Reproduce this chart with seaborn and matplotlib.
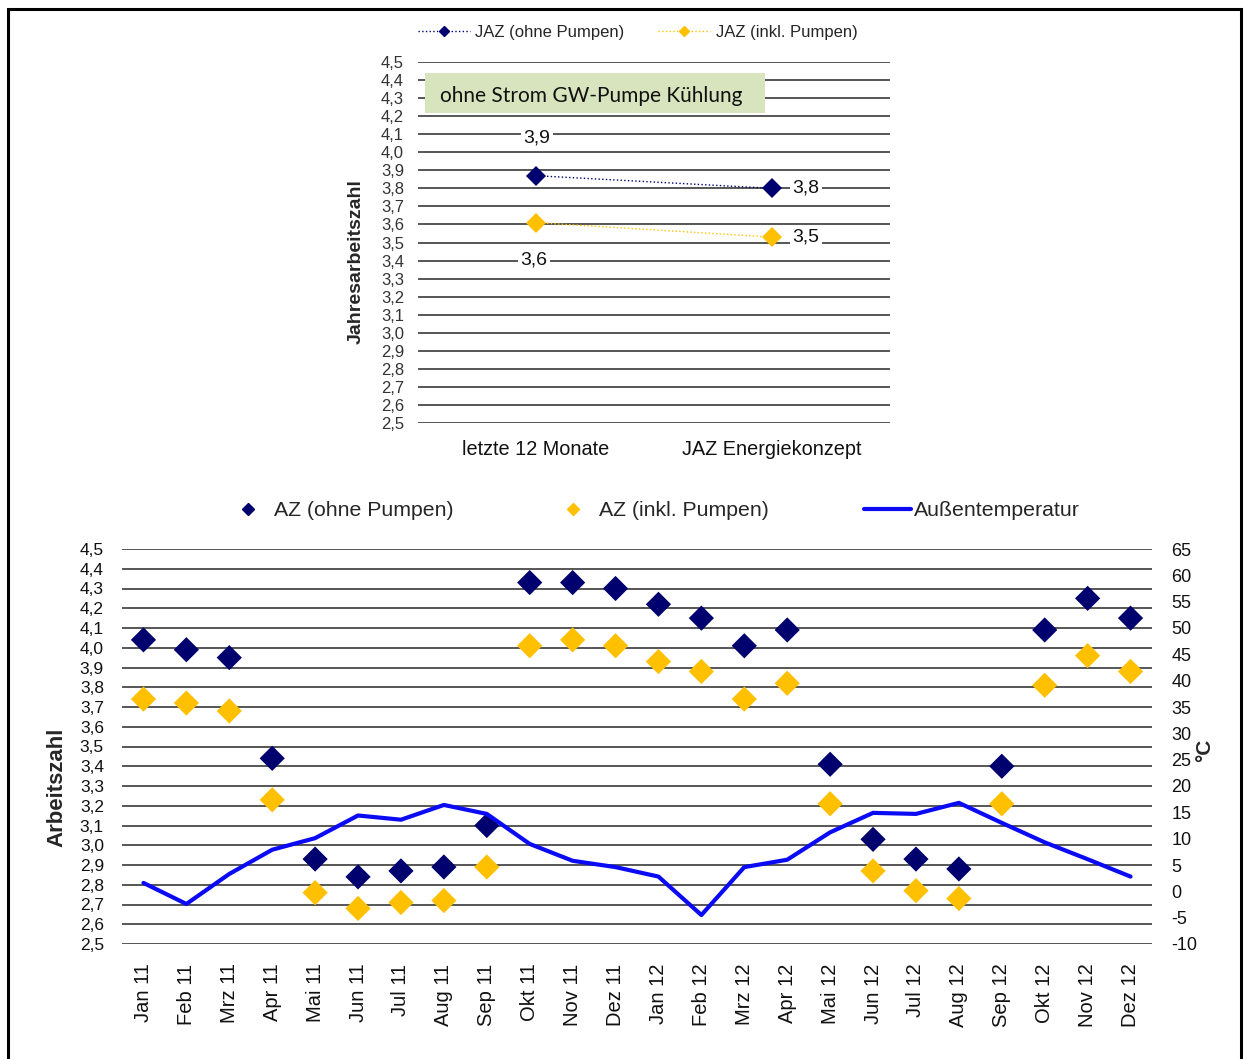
import matplotlib
matplotlib.use("Agg")
import matplotlib.pyplot as plt
from matplotlib.lines import Line2D
from matplotlib.patches import Rectangle
import numpy as np
import pandas as pd
import seaborn as sns

# ---- data -------------------------------------------------------------
jaz_categories = ["letzte 12 Monate", "JAZ Energiekonzept"]
jaz_ohne = [3.87, 3.80]
jaz_inkl = [3.61, 3.53]
jaz_ohne_labels = ["3,9", "3,8"]
jaz_inkl_labels = ["3,6", "3,5"]

months = ["Jan 11", "Feb 11", "Mrz 11", "Apr 11", "Mai 11", "Jun 11",
          "Jul 11", "Aug 11", "Sep 11", "Okt 11", "Nov 11", "Dez 11",
          "Jan 12", "Feb 12", "Mrz 12", "Apr 12", "Mai 12", "Jun 12",
          "Jul 12", "Aug 12", "Sep 12", "Okt 12", "Nov 12", "Dez 12"]
az_ohne = [4.04, 3.99, 3.95, 3.44, 2.93, 2.84, 2.87, 2.89, 3.10, 4.33, 4.33, 4.30,
           4.22, 4.15, 4.01, 4.09, 3.41, 3.03, 2.93, 2.88, 3.40, 4.09, 4.25, 4.15]
az_inkl = [3.74, 3.72, 3.68, 3.23, 2.76, 2.68, 2.71, 2.72, 2.89, 4.01, 4.04, 4.01,
           3.93, 3.88, 3.74, 3.82, 3.21, 2.87, 2.77, 2.73, 3.21, 3.81, 3.96, 3.88]
temp = [1.6, -2.4, 3.3, 7.9, 10.1, 14.4, 13.6, 16.4, 14.7, 9.0, 5.8, 4.6,
        2.8, -4.5, 4.6, 6.0, 11.2, 14.9, 14.7, 16.8, 13.0, 9.3, 6.1, 2.8]

NAVY = "#00006e"
GOLD = "#ffc000"
BLUE = "#0a0af5"
GRID = "#3a3a3a"

sns.set_theme(style="white")
plt.rcParams["font.family"] = ["Liberation Sans", "DejaVu Sans"]

fig = plt.figure(figsize=(12.44, 10.59), dpi=100)
W, H = 1244, 1059


def fbox(x0, y0, x1, y1):
    return [x0 / W, 1 - y1 / H, (x1 - x0) / W, (y1 - y0) / H]


def az_ticks(ax, fs, color, pad):
    ticks = np.round(np.arange(2.5, 4.51, 0.1), 1)
    ax.set_yticks(ticks)
    ax.set_yticklabels([f"{t:.1f}".replace(".", ",") for t in ticks],
                       fontsize=fs, color=color)
    ax.set_ylim(2.5, 4.5)
    for t in ticks:
        ax.axhline(t, color=GRID, lw=1.2, zorder=0.5)
    for s in ax.spines.values():
        s.set_visible(False)
    ax.tick_params(length=0)
    ax.tick_params(axis="y", pad=pad)


# ---- top chart --------------------------------------------------------
ax1 = fig.add_axes(fbox(418, 62, 890, 423))
top = pd.DataFrame({
    "pos": list(range(len(jaz_categories))) * 2,
    "val": jaz_ohne + jaz_inkl,
    "serie": ["JAZ (ohne Pumpen)"] * 2 + ["JAZ (inkl. Pumpen)"] * 2,
})
sns.lineplot(data=top, x="pos", y="val", hue="serie",
             palette={"JAZ (ohne Pumpen)": NAVY, "JAZ (inkl. Pumpen)": GOLD},
             marker="D", markersize=10, markeredgewidth=0, linestyle=":",
             linewidth=1.0, ax=ax1, legend=False, zorder=3)
ax1.set_xlim(-0.5, len(jaz_categories) - 0.5)
az_ticks(ax1, 12, "#333333", 10)
ax1.set_xticks(range(len(jaz_categories)))
ax1.set_xticklabels(jaz_categories, fontsize=14.3, color="#111111")
ax1.tick_params(axis="x", pad=12)
ax1.set_xlabel("")
ax1.set_ylabel("Jahresarbeitszahl", fontsize=14, fontweight="bold")
ax1.yaxis.set_label_coords(-0.112, 0.446)

lbl_kw = dict(fontsize=14, color="#111111", ha="center", va="center",
              bbox=dict(facecolor="white", edgecolor="none", pad=2), zorder=4)
ax1.annotate(jaz_ohne_labels[0], (0, jaz_ohne[0]), xytext=(1, 38),
             textcoords="offset pixels", **lbl_kw)
ax1.annotate(jaz_inkl_labels[0], (0, jaz_inkl[0]), xytext=(-2, -37),
             textcoords="offset pixels", **lbl_kw)
ax1.annotate(jaz_ohne_labels[1], (1, jaz_ohne[1]), xytext=(34, 0),
             textcoords="offset pixels", **lbl_kw)
ax1.annotate(jaz_inkl_labels[1], (1, jaz_inkl[1]), xytext=(34, 0),
             textcoords="offset pixels", **lbl_kw)

# green note box
fig.patches.append(Rectangle((425 / W, 1 - 113 / H), 340 / W, 40 / H,
                             transform=fig.transFigure, facecolor="#d7e4bd",
                             edgecolor="none", zorder=5))
fig.text(440 / W, 1 - 96 / H, "ohne Strom GW-Pumpe Kühlung",
         fontsize=15, family=["Lato", "DejaVu Sans"], color="#111111",
         ha="left", va="center", zorder=6)

top_handles = [
    Line2D([], [], color=NAVY, ls=":", lw=1.0, marker="D", markersize=5),
    Line2D([], [], color=GOLD, ls=":", lw=1.0, marker="D", markersize=5),
]
fig.legend(top_handles, ["JAZ (ohne Pumpen)", "JAZ (inkl. Pumpen)"],
           loc="center left", bbox_to_anchor=(418 / W, 1 - 32 / H), ncol=2,
           frameon=False, fontsize=12, handlelength=3.1, handletextpad=0.35,
           columnspacing=2.0, borderpad=0, borderaxespad=0)

# ---- bottom chart -----------------------------------------------------
ax2 = fig.add_axes(fbox(122, 549, 1152, 944))
bottom = pd.DataFrame({
    "pos": list(range(len(months))) * 2,
    "val": az_ohne + az_inkl,
    "serie": ["AZ (ohne Pumpen)"] * len(months) + ["AZ (inkl. Pumpen)"] * len(months),
})
sns.scatterplot(data=bottom, x="pos", y="val", hue="serie",
                palette={"AZ (ohne Pumpen)": NAVY, "AZ (inkl. Pumpen)": GOLD},
                marker="D", s=165, linewidth=0, ax=ax2, legend=False, zorder=3)
ax2.set_xlim(-0.5, len(months) - 0.5)
az_ticks(ax2, 12.5, "#111111", 13)
ax2.set_xticks(range(len(months)))
ax2.set_xticklabels(months, rotation=90, fontsize=14.5, color="#111111")
ax2.tick_params(axis="x", pad=14)
ax2.set_xlabel("")
ax2.set_ylabel("Arbeitszahl", fontsize=16, fontweight="bold")
ax2.yaxis.set_label_coords(-0.053, 0.397)

ax3 = ax2.twinx()
tdf = pd.DataFrame({"pos": range(len(months)), "temp": temp})
sns.lineplot(data=tdf, x="pos", y="temp", color=BLUE, linewidth=3,
             ax=ax3, zorder=2)
ax3.set_ylim(-10, 65)
ax3.set_yticks(range(-10, 66, 5))
ax3.set_yticklabels([str(v) for v in range(-10, 66, 5)], fontsize=13,
                    color="#111111")
ax3.tick_params(length=0, pad=14)
for s in ax3.spines.values():
    s.set_visible(False)
ax3.set_ylabel("")
ax3.set_xlabel("")
fig.text(1205 / W, 1 - 750 / H, "°C", rotation=90, fontsize=15,
         fontweight="bold", ha="center", va="center")

bot_handles = [
    Line2D([], [], color=NAVY, ls="none", marker="D", markersize=6),
    Line2D([], [], color=GOLD, ls="none", marker="D", markersize=6),
    Line2D([], [], color=BLUE, lw=3),
]
fig.legend(bot_handles, ["AZ (ohne Pumpen)", "AZ (inkl. Pumpen)", "Außentemperatur"],
           loc="center left", bbox_to_anchor=(225 / W, 1 - 511 / H), ncol=3,
           frameon=False, fontsize=15.3, handlelength=2.2, handletextpad=0.12,
           columnspacing=4.5, borderpad=0, borderaxespad=0)

# outer frame
fig.patches.append(Rectangle((8 / W, -0.02), 1233 / W, 1.02 - 9 / H,
                             transform=fig.transFigure, fill=False,
                             edgecolor="black", linewidth=2.2, zorder=10))

fig.savefig("out.png", dpi=100)
